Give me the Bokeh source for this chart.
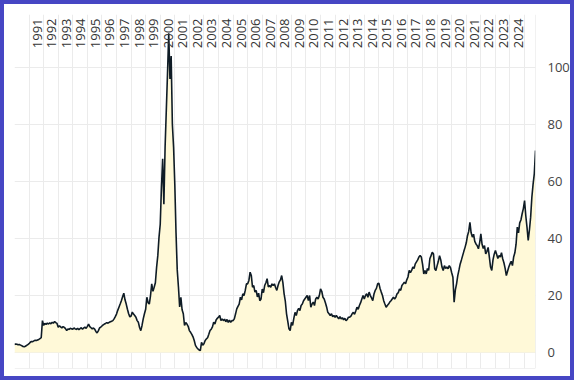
import math
from bokeh.plotting import figure
from bokeh.models import ColumnDataSource, FixedTicker, LinearAxis, Range1d, Span
from bokeh.core.properties import value
from bokeh.embed import file_html
from bokeh.resources import INLINE

# ---- data (monthly) ----
start_year = 1990
values_1990 = [2.8, 3.0, 2.9, 2.7, 2.8, 2.6, 2.4, 2.1, 2.0, 2.2, 2.5, 2.8]
values_1991 = [3.1, 3.6, 3.9, 3.8, 4.1, 4.3, 4.2, 4.4, 4.6, 4.9, 5.2, 11.2]
values_1992 = [9.6, 10.2, 9.9, 10.3, 10.0, 10.4, 10.1, 10.6, 10.3, 10.9, 10.5, 10.2]
values_1993 = [8.9, 9.4, 9.0, 8.6, 9.1, 8.8, 8.4, 7.7, 8.3, 8.1, 8.5, 8.3]
values_1994 = [8.2, 8.6, 8.3, 8.1, 8.5, 8.0, 8.4, 8.7, 8.2, 8.6, 8.9, 8.5]
values_1995 = [9.2, 10.0, 9.1, 8.7, 8.3, 8.6, 8.2, 7.4, 6.9, 7.6, 8.6, 8.9]
values_1996 = [9.3, 9.7, 10.0, 10.2, 10.5, 10.3, 10.6, 10.8, 11.0, 11.2, 11.8, 12.6]
values_1997 = [13.5, 14.8, 15.9, 17.0, 18.2, 19.6, 20.8, 18.5, 17.0, 15.2, 13.6, 12.5]
values_1998 = [12.8, 14.2, 13.5, 13.0, 12.4, 11.2, 10.6, 8.8, 7.7, 9.5, 11.8, 13.6]
values_1999 = [15.2, 19.4, 17.5, 17.0, 20.0, 24.1, 21.5, 22.9, 24.5, 29.9, 34.0, 40.5]
values_2000 = [45.0, 58.0, 68.0, 52.0, 72.0, 85.0, 98.0, 112.0, 96.0, 104.0, 80.0, 72.0]
values_2001 = [59.0, 42.0, 29.0, 23.0, 16.0, 19.4, 15.0, 13.6, 9.5, 10.5, 10.0, 9.2]
values_2002 = [7.7, 7.1, 6.4, 5.5, 4.2, 2.5, 1.8, 1.3, 0.9, 0.7, 3.6, 2.6]
values_2003 = [3.1, 4.2, 4.8, 5.2, 6.4, 7.7, 8.2, 9.0, 10.6, 10.0, 11.4, 12.0]
values_2004 = [12.4, 13.0, 11.2, 11.8, 11.2, 11.7, 10.8, 11.6, 10.6, 11.4, 10.6, 11.2]
values_2005 = [11.2, 11.8, 13.5, 15.3, 16.2, 17.0, 19.4, 18.5, 20.6, 20.0, 21.8, 24.1]
values_2006 = [24.1, 25.3, 28.2, 27.0, 22.9, 23.5, 21.2, 21.8, 19.5, 20.8, 18.2, 18.8]
values_2007 = [22.3, 21.0, 23.5, 24.5, 25.9, 23.0, 23.5, 22.9, 24.1, 23.5, 24.1, 22.8]
values_2008 = [21.8, 23.5, 24.8, 25.5, 27.0, 24.5, 20.6, 18.0, 13.6, 11.0, 8.3, 7.7]
values_2009 = [10.6, 9.5, 12.0, 14.1, 13.0, 14.7, 15.5, 14.7, 16.5, 17.0, 18.2, 18.8]
values_2010 = [19.4, 20.0, 18.2, 20.0, 15.9, 17.0, 17.7, 16.5, 18.8, 19.4, 18.8, 20.0]
values_2011 = [22.3, 21.5, 19.4, 18.8, 17.5, 16.0, 14.1, 13.6, 13.0, 13.6, 12.6, 13.0]
values_2012 = [12.4, 13.0, 12.4, 11.8, 12.6, 11.8, 12.2, 11.5, 12.0, 11.2, 11.6, 12.4]
values_2013 = [12.4, 12.8, 13.6, 14.1, 13.4, 14.6, 15.9, 15.2, 16.5, 17.5, 18.8, 20.0]
values_2014 = [18.8, 20.0, 20.6, 19.4, 21.2, 20.0, 19.2, 18.2, 20.5, 21.8, 22.5, 24.1]
values_2015 = [24.3, 22.5, 21.2, 20.0, 18.2, 17.0, 15.9, 16.5, 17.0, 17.7, 18.2, 18.8]
values_2016 = [19.4, 18.8, 19.4, 20.6, 21.0, 22.3, 21.8, 23.5, 24.1, 24.7, 24.1, 25.5]
values_2017 = [26.5, 28.8, 28.0, 28.8, 30.0, 29.5, 31.1, 31.8, 32.5, 33.5, 34.0, 33.5]
values_2018 = [31.0, 27.6, 28.8, 27.6, 29.5, 28.8, 32.9, 34.0, 35.2, 34.6, 29.4, 28.8]
values_2019 = [30.5, 32.0, 34.0, 32.5, 30.0, 28.8, 30.5, 29.5, 30.0, 29.4, 30.5, 29.8]
values_2020 = [28.0, 26.4, 17.7, 22.0, 24.1, 27.0, 29.0, 31.1, 32.5, 34.0, 35.5, 36.9]
values_2021 = [38.5, 41.0, 42.5, 45.7, 42.0, 40.5, 41.5, 39.0, 38.1, 37.5, 36.4, 38.5]
values_2022 = [41.6, 38.0, 36.5, 37.5, 34.6, 35.5, 36.9, 33.5, 30.0, 28.8, 32.5, 34.5]
values_2023 = [35.8, 34.5, 33.0, 34.0, 33.5, 35.0, 32.9, 31.5, 29.5, 27.0, 28.5, 30.0]
values_2024 = [31.1, 32.0, 30.5, 33.5, 35.0, 38.0, 44.0, 42.0, 45.5, 46.5, 48.7, 50.5]
values_2025 = [53.3, 48.0, 44.0, 39.3, 43.0, 47.5, 54.5, 59.0, 62.7, 70.9]

yearly = [values_1990, values_1991, values_1992, values_1993, values_1994, values_1995,
          values_1996, values_1997, values_1998, values_1999, values_2000, values_2001,
          values_2002, values_2003, values_2004, values_2005, values_2006, values_2007,
          values_2008, values_2009, values_2010, values_2011, values_2012, values_2013,
          values_2014, values_2015, values_2016, values_2017, values_2018, values_2019,
          values_2020, values_2021, values_2022, values_2023, values_2024, values_2025]

year_labels = [str(y) for y in range(1991, 2025)]
grid_years = list(range(1991, 2026))
y_ticks = [0, 20, 40, 60, 80, 100]

# ---- build series ----
xs, ys = [], []
for i, vals in enumerate(yearly):
    for m, v in enumerate(vals):
        xs.append(start_year + i + m / 12.0)
        ys.append(v)

src = ColumnDataSource(dict(x=xs, y=ys, base=[0.0] * len(xs)))

x_end = xs[-1]
y_lo, y_hi = -5.6, 118.6

p = figure(width=574, height=380, output_backend="svg", toolbar_location=None,
           x_range=Range1d(xs[0], x_end), y_range=Range1d(y_lo, y_hi),
           min_border_left=10, min_border_right=43, min_border_top=10, min_border_bottom=16,
           background_fill_color="white", border_fill_color="white",
           outline_line_color=None,
           styles={"border": "4px solid #4646c4", "box-sizing": "border-box"})

p.xaxis.visible = False
p.yaxis.visible = False

yax = LinearAxis(ticker=FixedTicker(ticks=y_ticks))
yax.axis_line_color = None
yax.major_tick_line_color = None
yax.minor_tick_line_color = None
yax.major_label_standoff = 6
yax.major_label_text_font = "Open Sans"
yax.major_label_text_font_size = "13px"
yax.major_label_text_color = "#444444"
p.add_layout(yax, "right")

p.xgrid.ticker = FixedTicker(ticks=grid_years)
p.ygrid.ticker = FixedTicker(ticks=y_ticks)
p.xgrid.grid_line_color = "#ebebeb"
p.ygrid.grid_line_color = "#ebebeb"

p.add_layout(Span(location=y_lo, dimension="width", line_color="#e3e3e3", line_width=1))
p.add_layout(Span(location=x_end, dimension="height", line_color="#e3e3e3", line_width=1))

p.varea(x="x", y1="base", y2="y", source=src, fill_color="#fff9d8")
p.line(x="x", y="y", source=src, line_color="#0f1c26", line_width=1.6)

lab_src = ColumnDataSource(dict(x=[int(s) + 0.55 for s in year_labels],
                                y=[117.2] * len(year_labels), t=year_labels))
p.text(x="x", y="y", text="t", source=lab_src, angle=math.pi / 2,
       text_align="right", text_baseline="middle",
       text_font=value("Open Sans"), text_font_size="13px", text_color="#333333")

open("out.html", "w").write(file_html(p, INLINE))
